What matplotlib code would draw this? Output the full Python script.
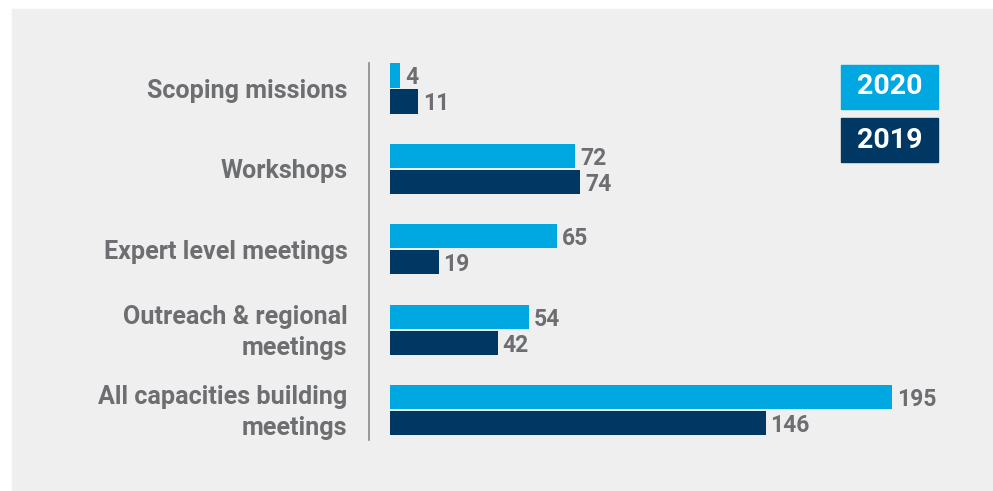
import matplotlib.pyplot as plt
from matplotlib.patches import Rectangle
from matplotlib.lines import Line2D
import numpy as np

plt.rcParams['font.family'] = ['Roboto', 'DejaVu Sans']

categories = ['Scoping missions', 'Workshops', 'Expert level meetings',
              'Outreach & regional\nmeetings', 'All capacities building\nmeetings']
vals_2020 = [4, 72, 65, 54, 195]
vals_2019 = [11, 74, 19, 42, 146]
years = ['2020', '2019']

c2020 = '#00a8e1'
c2019 = '#003863'
grey = '#6d6e71'

W, H = 993, 491
fig = plt.figure(figsize=(W / 100, H / 100), dpi=100, facecolor='white')

# grey panel behind everything
fig.patches.append(Rectangle((12 / W, 0), 1 - 12 / W, 1 - 9 / H,
                             transform=fig.transFigure, color='#efefef', zorder=-10))

# axes placed in pixels: bars start at x=390, 1 unit = 2.574 px
x0, x1 = 390, 390 + 230 * 2.574
top, bot = 48.3, 48.3 + 5 * 80.4
ax = fig.add_axes([x0 / W, 1 - bot / H, (x1 - x0) / W, (bot - top) / H])
ax.set_facecolor('none')
ax.set_xlim(0, 230)
ax.set_ylim(4.5, -0.5)
ax.axis('off')

y = np.arange(len(categories))
h = 0.3
off = 0.162
ax.barh(y - off, vals_2020, height=h, color=c2020)
ax.barh(y + off, vals_2019, height=h, color=c2019)

for yi, v in zip(y - off, vals_2020):
    ax.text(v + 1.8, yi + 0.03, str(v), va='center', ha='left', fontsize=16.5,
            fontweight='bold', color=grey)
for yi, v in zip(y + off, vals_2019):
    ax.text(v + 1.8, yi + 0.03, str(v), va='center', ha='left', fontsize=16.5,
            fontweight='bold', color=grey)

for yi, lab in zip(y, categories):
    ax.text(-16.5, yi + 0.03, lab, va='center', ha='right', fontsize=18.1,
            fontweight='bold', color=grey, linespacing=1.37, clip_on=False)

# vertical separator line
fig.lines.append(Line2D([369 / W, 369 / W], [1 - 63 / H, 1 - 440 / H],
                        transform=fig.transFigure, color='#8a8a8a', lw=1.2))

# legend boxes
for (yt, yb), lab, col in zip([(65, 109), (118, 162)], years, [c2020, c2019]):
    fig.patches.append(Rectangle((841 / W, 1 - yb / H), 97 / W, (yb - yt) / H,
                                 transform=fig.transFigure, color=col))
    fig.text(889.5 / W, 1 - (yt + yb) / 2 / H, lab, ha='center', va='center',
             fontsize=20.5, fontweight='bold', color='white')

fig.savefig('out.png', dpi=100, facecolor='white')
